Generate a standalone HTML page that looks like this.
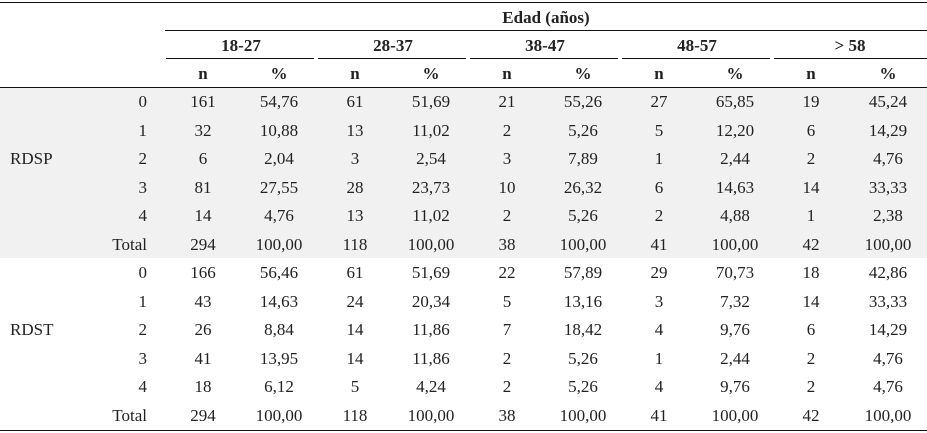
<!DOCTYPE html>
<html><head><meta charset="utf-8"><style>
body{margin:0;width:927px;height:433px;background:#fff;position:relative;overflow:hidden;font-family:"Liberation Serif",serif;font-size:17px;color:#222}
.l{position:absolute;height:1px;background:#111}
.g{position:absolute;left:0;width:927px;background:#f1f1f1}
table{position:absolute;left:0;top:4px;border-collapse:collapse;table-layout:fixed;width:927px}
td{padding:0;text-align:center;white-space:nowrap}
tr.h td{height:28px;font-weight:bold}
tr.d td{height:28.5px}
td.v{text-align:right;padding-right:18px}
td.lab{text-align:left;padding-left:10px}
</style></head><body>
<div class="g" style="top:88px;height:170px"></div>
<div class="l" style="left:0;width:927px;top:2px"></div>
<div class="l" style="left:165px;width:762px;top:30px"></div>
<div class="l" style="left:166px;width:148px;top:58px"></div>
<div class="l" style="left:318px;width:148px;top:58px"></div>
<div class="l" style="left:470px;width:148px;top:58px"></div>
<div class="l" style="left:622px;width:148px;top:58px"></div>
<div class="l" style="left:774px;width:153px;top:58px"></div>
<div class="l" style="left:0;width:927px;top:87px"></div>
<div class="l" style="left:0;width:927px;top:430px"></div>
<table>
<colgroup><col style="width:95px"><col style="width:70px"><col style="width:76px"><col style="width:76px"><col style="width:76px"><col style="width:76px"><col style="width:76px"><col style="width:76px"><col style="width:76px"><col style="width:76px"><col style="width:76px"><col></colgroup>
<tr class="h"><td></td><td></td><td colspan="10">Edad (años)</td></tr>
<tr class="h"><td></td><td></td><td colspan="2">18-27</td><td colspan="2">28-37</td><td colspan="2">38-47</td><td colspan="2">48-57</td><td colspan="2">&gt; 58</td></tr>
<tr class="h"><td></td><td></td><td>n</td><td>%</td><td>n</td><td>%</td><td>n</td><td>%</td><td>n</td><td>%</td><td>n</td><td>%</td></tr>
<tr class="d"><td></td><td class="v">0</td><td>161</td><td>54,76</td><td>61</td><td>51,69</td><td>21</td><td>55,26</td><td>27</td><td>65,85</td><td>19</td><td>45,24</td></tr>
<tr class="d"><td></td><td class="v">1</td><td>32</td><td>10,88</td><td>13</td><td>11,02</td><td>2</td><td>5,26</td><td>5</td><td>12,20</td><td>6</td><td>14,29</td></tr>
<tr class="d"><td class="lab">RDSP</td><td class="v">2</td><td>6</td><td>2,04</td><td>3</td><td>2,54</td><td>3</td><td>7,89</td><td>1</td><td>2,44</td><td>2</td><td>4,76</td></tr>
<tr class="d"><td></td><td class="v">3</td><td>81</td><td>27,55</td><td>28</td><td>23,73</td><td>10</td><td>26,32</td><td>6</td><td>14,63</td><td>14</td><td>33,33</td></tr>
<tr class="d"><td></td><td class="v">4</td><td>14</td><td>4,76</td><td>13</td><td>11,02</td><td>2</td><td>5,26</td><td>2</td><td>4,88</td><td>1</td><td>2,38</td></tr>
<tr class="d"><td></td><td class="v">Total</td><td>294</td><td>100,00</td><td>118</td><td>100,00</td><td>38</td><td>100,00</td><td>41</td><td>100,00</td><td>42</td><td>100,00</td></tr>
<tr class="d"><td></td><td class="v">0</td><td>166</td><td>56,46</td><td>61</td><td>51,69</td><td>22</td><td>57,89</td><td>29</td><td>70,73</td><td>18</td><td>42,86</td></tr>
<tr class="d"><td></td><td class="v">1</td><td>43</td><td>14,63</td><td>24</td><td>20,34</td><td>5</td><td>13,16</td><td>3</td><td>7,32</td><td>14</td><td>33,33</td></tr>
<tr class="d"><td class="lab">RDST</td><td class="v">2</td><td>26</td><td>8,84</td><td>14</td><td>11,86</td><td>7</td><td>18,42</td><td>4</td><td>9,76</td><td>6</td><td>14,29</td></tr>
<tr class="d"><td></td><td class="v">3</td><td>41</td><td>13,95</td><td>14</td><td>11,86</td><td>2</td><td>5,26</td><td>1</td><td>2,44</td><td>2</td><td>4,76</td></tr>
<tr class="d"><td></td><td class="v">4</td><td>18</td><td>6,12</td><td>5</td><td>4,24</td><td>2</td><td>5,26</td><td>4</td><td>9,76</td><td>2</td><td>4,76</td></tr>
<tr class="d"><td></td><td class="v">Total</td><td>294</td><td>100,00</td><td>118</td><td>100,00</td><td>38</td><td>100,00</td><td>41</td><td>100,00</td><td>42</td><td>100,00</td></tr>
</table>
</body></html>
